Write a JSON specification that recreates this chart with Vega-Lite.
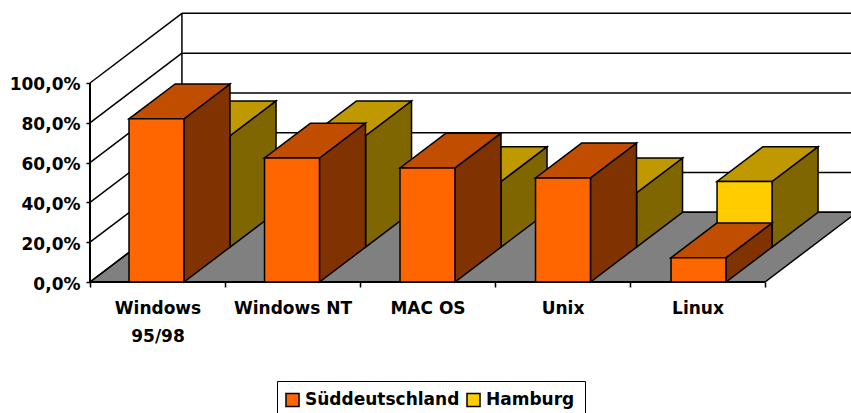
{
"$schema":"https://vega.github.io/schema/vega-lite/v6.json",
"width":761,"height":282,
"autosize":{"type":"none"},
"padding":{"left":90,"top":0,"right":0,"bottom":131},
"background":"white",
"config":{"view":{"stroke":null},"font":"DejaVu Sans"},
"datasets":{
"balken":[
{"kategorie":"Windows 95/98","serie":"Süddeutschland","wert":82},
{"kategorie":"Windows NT","serie":"Süddeutschland","wert":62.3},
{"kategorie":"MAC OS","serie":"Süddeutschland","wert":57.3},
{"kategorie":"Unix","serie":"Süddeutschland","wert":52.3},
{"kategorie":"Linux","serie":"Süddeutschland","wert":12.2},
{"kategorie":"Windows 95/98","serie":"Hamburg","wert":56},
{"kategorie":"Windows NT","serie":"Hamburg","wert":56},
{"kategorie":"MAC OS","serie":"Hamburg","wert":33},
{"kategorie":"Unix","serie":"Hamburg","wert":27.3},
{"kategorie":"Linux","serie":"Hamburg","wert":33}
],
"gitter":[{"v":0},{"v":20},{"v":40},{"v":60},{"v":80},{"v":100}]
},
"encoding":{
"x":{"field":"X","type":"quantitative","scale":{"domain":[0,5.637],"nice":false,"zero":false},
"axis":{"title":null,"grid":false,"domain":false,"values":[0,1,2,3,4,5],"tickSize":5,"tickWidth":1.5,"tickColor":"black","labelOffset":67.5,"labelPadding":21,"labelFont":"DejaVu Sans","labelFontWeight":"bold","labelFontSize":17,"labelColor":"black","labelOverlap":false,"labelFlush":false,"labelBound":false,"labelAlign":"center","labelBaseline":"middle","labelLineHeight":28,
"labelExpr":"datum.value==0?['Windows','95/98']:datum.value==1?'Windows NT':datum.value==2?'MAC OS':datum.value==3?'Unix':datum.value==4?'Linux':''"}},
"y":{"field":"Y","type":"quantitative","scale":{"domain":[0,141.7],"nice":false,"zero":false},
"axis":{"title":null,"grid":false,"domain":false,"values":[0,20,40,60,80,100],"tickSize":4,"tickWidth":1.5,"tickColor":"black","labelPadding":6,"labelOffset":2,"labelFont":"DejaVu Sans","labelFontWeight":"bold","labelFontSize":17,"labelColor":"black","labelOverlap":false,"labelBound":false,"labelFlush":false,
"labelExpr":"replace(format(datum.value,'.1f'),'.',',')+'%'"}}
},
"layer":[
{"data":{"name":"gitter"},"layer":[
{"transform":[{"filter":"datum.v==0"},{"calculate":"0","as":"a"},{"calculate":"1","as":"b"},{"fold":["a","b"],"as":["k","t"]},{"calculate":"datum.t*0.681","as":"X"},{"calculate":"5+datum.t*0.681","as":"X2"},{"calculate":"datum.t*35","as":"Y"}],
"mark":{"type":"area","orient":"horizontal","fill":"#808080","stroke":"black","strokeWidth":1.5},
"encoding":{"x2":{"field":"X2"}}},
{"transform":[{"calculate":"0","as":"X"},{"calculate":"datum.v","as":"Y"},{"calculate":"0.681","as":"X2"},{"calculate":"datum.v+35","as":"Y2"}],
"mark":{"type":"rule","stroke":"black","strokeWidth":1.5},
"encoding":{"x2":{"field":"X2"},"y2":{"field":"Y2"}}},
{"transform":[{"calculate":"0.681","as":"X"},{"calculate":"datum.v+35","as":"Y"},{"calculate":"5.7","as":"X2"},{"calculate":"datum.v+35","as":"Y2"}],
"mark":{"type":"rule","stroke":"black","strokeWidth":1.5},
"encoding":{"x2":{"field":"X2"},"y2":{"field":"Y2"}}},
{"transform":[{"filter":"datum.v==100"},{"calculate":"0.681","as":"X"},{"calculate":"35","as":"Y"},{"calculate":"0.681","as":"X2"},{"calculate":"135","as":"Y2"}],
"mark":{"type":"rule","stroke":"black","strokeWidth":1.5},
"encoding":{"x2":{"field":"X2"},"y2":{"field":"Y2"}}},
{"transform":[{"filter":"datum.v==100"},{"calculate":"0","as":"X"},{"calculate":"0","as":"Y"},{"calculate":"0","as":"X2"},{"calculate":"100","as":"Y2"}],
"mark":{"type":"rule","stroke":"black","strokeWidth":2},
"encoding":{"x2":{"field":"X2"},"y2":{"field":"Y2"}}},
{"transform":[{"filter":"datum.v==0"},{"calculate":"0","as":"X"},{"calculate":"0","as":"Y"},{"calculate":"5","as":"X2"},{"calculate":"0","as":"Y2"}],
"mark":{"type":"rule","stroke":"black","strokeWidth":2},
"encoding":{"x2":{"field":"X2"},"y2":{"field":"Y2"}}}
]},
{"data":{"name":"balken"},
"transform":[
{"calculate":"indexof(['Windows 95/98','Windows NT','MAC OS','Unix','Linux'],datum.kategorie)","as":"pos"},
{"calculate":"datum.pos*1.0037+0.289+(datum.serie=='Hamburg'?0.341:0)","as":"L"},
{"calculate":"datum.L+0.407","as":"R"},
{"calculate":"datum.serie=='Hamburg'?17.5:0","as":"Basis"},
{"calculate":"datum.Basis+datum.wert","as":"Kopf"},
{"calculate":"0","as":"a"},{"calculate":"1","as":"b"},
{"fold":["a","b"],"as":["k","t"]}
],
"layer":[
{"transform":[{"filter":"datum.serie=='Hamburg'"},{"calculate":"datum.R+datum.t*0.341","as":"X"},{"calculate":"datum.Kopf+datum.t*17.5","as":"Y"},{"calculate":"datum.Basis+datum.t*17.5","as":"Y2"}],
"mark":{"type":"area","orient":"vertical","fill":"#806600","stroke":"black","strokeWidth":1.5},
"encoding":{"y2":{"field":"Y2"},"detail":{"field":"kategorie"}}},
{"transform":[{"filter":"datum.serie=='Hamburg'"},{"calculate":"datum.L+datum.t*0.341","as":"X"},{"calculate":"datum.R+datum.t*0.341","as":"X2"},{"calculate":"datum.Kopf+datum.t*17.5","as":"Y"}],
"mark":{"type":"area","orient":"horizontal","fill":"#C09900","stroke":"black","strokeWidth":1.5},
"encoding":{"x2":{"field":"X2"},"detail":{"field":"kategorie"}}},
{"transform":[{"filter":"datum.serie=='Hamburg' && datum.t==0"},{"calculate":"datum.L","as":"X"},{"calculate":"datum.R","as":"X2"},{"calculate":"datum.Basis","as":"Y"},{"calculate":"datum.Kopf","as":"Y2"}],
"mark":{"type":"rect","stroke":"black","strokeWidth":1.5},
"encoding":{"x2":{"field":"X2"},"y2":{"field":"Y2"},"fill":{"field":"serie","type":"nominal","title":null,"scale":{"domain":["Süddeutschland","Hamburg"],"range":["#FF6600","#FFCC00"]},
"legend":{"orient":"none","legendX":187,"legendY":381,"direction":"horizontal","columns":2,"padding":10,"strokeColor":"black","fillColor":"white","symbolType":"square","symbolSize":170,"symbolStrokeColor":"black","symbolStrokeWidth":1.5,"symbolOpacity":1,"symbolOffset":-3,"labelFont":"DejaVu Sans","labelFontWeight":"bold","labelFontSize":17,"labelColor":"black","labelOffset":4,"columnPadding":3,"labelLimit":300}}}},
{"transform":[{"filter":"datum.serie!='Hamburg'"},{"calculate":"datum.R+datum.t*0.341","as":"X"},{"calculate":"datum.Kopf+datum.t*17.5","as":"Y"},{"calculate":"datum.Basis+datum.t*17.5","as":"Y2"}],
"mark":{"type":"area","orient":"vertical","fill":"#803300","stroke":"black","strokeWidth":1.5},
"encoding":{"y2":{"field":"Y2"},"detail":{"field":"kategorie"}}},
{"transform":[{"filter":"datum.serie!='Hamburg'"},{"calculate":"datum.L+datum.t*0.341","as":"X"},{"calculate":"datum.R+datum.t*0.341","as":"X2"},{"calculate":"datum.Kopf+datum.t*17.5","as":"Y"}],
"mark":{"type":"area","orient":"horizontal","fill":"#C04D00","stroke":"black","strokeWidth":1.5},
"encoding":{"x2":{"field":"X2"},"detail":{"field":"kategorie"}}},
{"transform":[{"filter":"datum.serie!='Hamburg' && datum.t==0"},{"calculate":"datum.L","as":"X"},{"calculate":"datum.R","as":"X2"},{"calculate":"datum.Basis","as":"Y"},{"calculate":"datum.Kopf","as":"Y2"}],
"mark":{"type":"rect","stroke":"black","strokeWidth":1.5},
"encoding":{"x2":{"field":"X2"},"y2":{"field":"Y2"},"fill":{"field":"serie","type":"nominal","title":null,"scale":{"domain":["Süddeutschland","Hamburg"],"range":["#FF6600","#FFCC00"]},
"legend":{"orient":"none","legendX":187,"legendY":381,"direction":"horizontal","columns":2,"padding":10,"strokeColor":"black","fillColor":"white","symbolType":"square","symbolSize":170,"symbolStrokeColor":"black","symbolStrokeWidth":1.5,"symbolOpacity":1,"symbolOffset":-3,"labelFont":"DejaVu Sans","labelFontWeight":"bold","labelFontSize":17,"labelColor":"black","labelOffset":4,"columnPadding":3,"labelLimit":300}}}}
]}
]
}
